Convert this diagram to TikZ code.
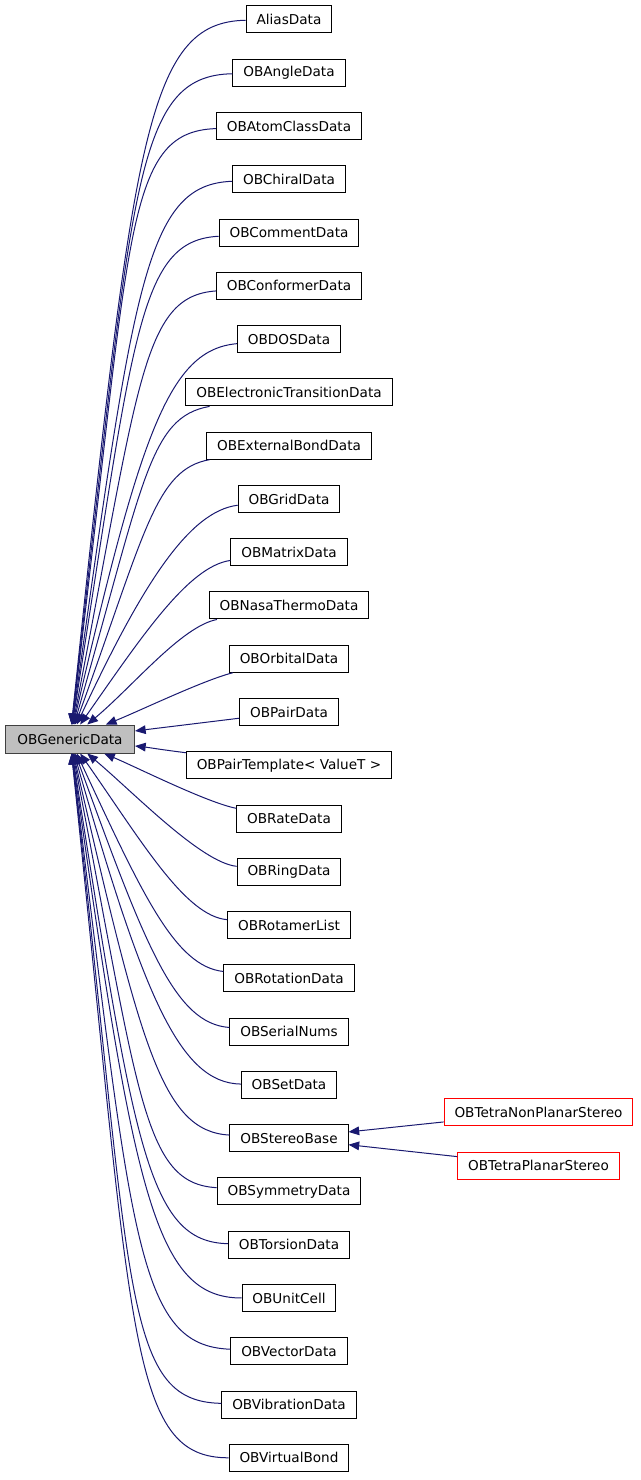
\documentclass[tikz,border=0pt]{standalone}
\usepackage{fontspec}
\setmainfont{DejaVu Sans}
\usetikzlibrary{arrows.meta}

\begin{document}
\begin{tikzpicture}[x=0.75pt, y=0.75pt,
    classBox/.style={draw=borderColour, line width=0.75pt, rectangle, minimum height=20.25pt,
        inner xsep=7.8pt, inner ysep=0pt, font=\fontsize{10.2}{12}\selectfont},
    baseBox/.style={classBox, fill=baseFill, draw=baseBorder, inner xsep=9pt, minimum height=21pt},
    redBox/.style={classBox, draw=red},
    inherit/.style={draw=edgeColour, line width=0.75pt, -{Triangle[length=8pt,width=6.5pt]}}]
    \def\rowGap{53.27}

    \definecolor{borderColour}{HTML}{000000}
    \definecolor{baseBorder}{HTML}{404040}
    \definecolor{baseFill}{HTML}{BFBFBF}
    \definecolor{edgeColour}{HTML}{191970}

    \useasboundingbox (0,0) rectangle (640,-1480);

    % Base class
    \node[baseBox] (genericData) at (70,-739) {OBGenericData};

    % Derived classes, one row each, with their edge to the base class
    \foreach \name/\label/\outAngle/\inAngle [count=\i from 0] in {
        aliasData/AliasData/181/84,
        angleData/OBAngleData/181/83.5,
        atomClassData/OBAtomClassData/182/83,
        chiralData/OBChiralData/182/82,
        commentData/OBCommentData/183/81,
        conformerData/OBConformerData/184/79,
        dosData/OBDOSData/185/77,
        electronicData/OBElectronicTransitionData/190/74,
        externalBondData/OBExternalBondData/190/70,
        gridData/OBGridData/187/65,
        matrixData/OBMatrixData/188/55,
        nasaThermoData/OBNasaThermoData/191/40,
        orbitalData/OBOrbitalData/194/22,
        pairData/OBPairData/187.3/7.3,
        pairTemplate/OBPairTemplate< ValueT >/173.2/-6.8,
        rateData/OBRateData/169/-23,
        ringData/OBRingData/174/-40,
        rotamerList/OBRotamerList/175/-55,
        rotationData/OBRotationData/174/-65,
        serialNums/OBSerialNums/176/-70,
        setData/OBSetData/179/-74,
        stereoBase/OBStereoBase/177/-77,
        symmetryData/OBSymmetryData/177/-79,
        torsionData/OBTorsionData/179/-81,
        unitCell/OBUnitCell/180/-82,
        vectorData/OBVectorData/178/-83,
        vibrationData/OBVibrationData/179/-83.5,
        virtualBond/OBVirtualBond/180/-84}
    {
        \node[classBox] (\name) at (289,{-19.5-\rowGap*\i}) {\label};
        \pgfmathsetmacro\rowOffset{abs(719.5-\rowGap*\i)}
        \pgfmathsetmacro\outDist{min(100,0.12*\rowOffset+20)*0.75}
        \pgfmathsetmacro\inDist{max(0.9*\rowOffset-60,0.45*\rowOffset)*0.75}
        \draw[inherit] (\name) to[out=\outAngle, in=\inAngle,
            out distance=\outDist pt, in distance=\inDist pt] (genericData);
    }

    % Classes derived from OBStereoBase
    \node[redBox] (tetraNonPlanar) at (538.5,-1112) {OBTetraNonPlanarStereo};
    \node[redBox] (tetraPlanar) at (538.5,-1165.5) {OBTetraPlanarStereo};
    \draw[inherit] (tetraNonPlanar) -- (stereoBase);
    \draw[inherit] (tetraPlanar) -- (stereoBase);

\end{tikzpicture}
\end{document}
